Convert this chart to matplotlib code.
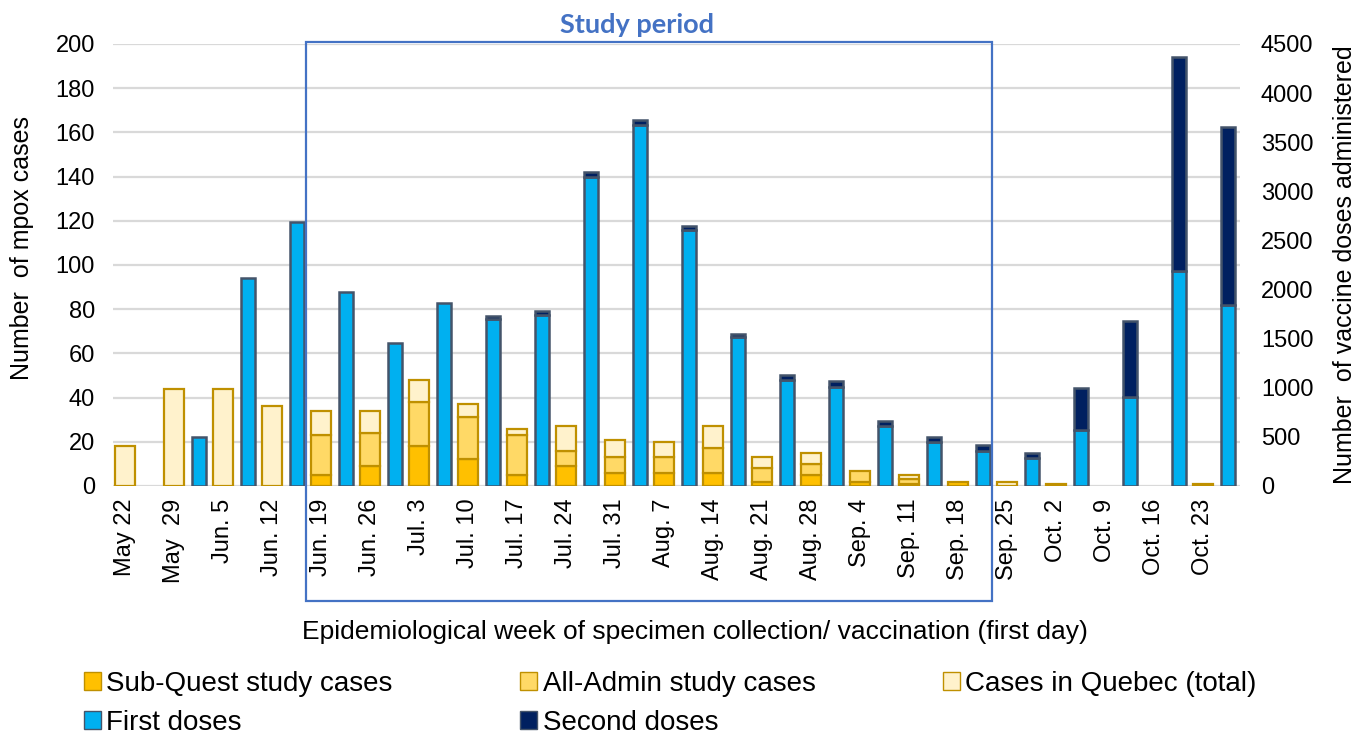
import numpy as np
import matplotlib.pyplot as plt
from matplotlib.patches import Patch, Rectangle

plt.rcParams['font.family'] = ['Liberation Sans', 'DejaVu Sans']

weeks = ['May 22', 'May  29', 'Jun. 5', 'Jun. 12', 'Jun. 19', 'Jun. 26', 'Jul. 3',
         'Jul. 10', 'Jul. 17', 'Jul. 24', 'Jul. 31', 'Aug. 7', 'Aug. 14', 'Aug. 21',
         'Aug. 28', 'Sep. 4', 'Sep. 11', 'Sep. 18', 'Sep. 25', 'Oct. 2', 'Oct. 9',
         'Oct. 16', 'Oct. 23']

# cases (nested counts: sub-quest <= all-admin <= quebec total)
cases_quebec = [18, 44, 44, 36, 34, 34, 48, 37, 26, 27, 21, 20, 27, 13, 15, 7, 5, 2, 2, 1, 0, 0, 1]
cases_admin = [0, 0, 0, 0, 23, 24, 38, 31, 23, 16, 13, 13, 17, 8, 10, 7, 3, 2, 0, 1, 0, 0, 1]
cases_subquest = [0, 0, 0, 0, 5, 9, 18, 12, 5, 9, 6, 6, 6, 2, 5, 2, 1, 2, 0, 0, 0, 0, 0]

# vaccine doses
first_doses = [0, 496, 2121, 2685, 1979, 1459, 1860, 1701, 1738, 3150, 3677, 2610, 1518,
               1080, 1012, 609, 446, 354, 283, 570, 910, 2192, 1843]
second_doses = [0, 0, 0, 0, 0, 0, 0, 30, 40, 50, 50, 40, 30, 50, 60, 50, 50, 60, 50,
                431, 770, 2179, 1815]

c_sub = '#FFC000'
c_admin = '#FFD966'
c_queb = '#FFF2CC'
c_case_edge = '#BF9000'
c_first = '#00B0F0'
c_second = '#002060'
c_vac_edge = '#44546A'
c_box = '#4472C4'

x = np.arange(len(weeks))
sub = np.array(cases_subquest)
adm = np.array(cases_admin)
qc = np.array(cases_quebec)
h_adm = np.clip(adm - sub, 0, None)
h_qc = qc - np.maximum(adm, sub)


def bars(a, xs, h, bottom, w, color, edge, lw):
    # skip empty segments so no stray edge lines are drawn at zero
    m = h > 0
    a.bar(xs[m], h[m], w, bottom=bottom[m], color=color, edgecolor=edge,
          linewidth=lw, zorder=3)


fig = plt.figure(figsize=(13.59, 7.38), dpi=100)
ax = fig.add_axes([0.0832, 0.3415, 0.8292, 0.599])
ax2 = ax.twinx()

cw = 0.4
zero = np.zeros(len(x))
bars(ax, x, sub, zero, cw, c_sub, c_case_edge, 1.6)
bars(ax, x, h_adm, sub, cw, c_admin, c_case_edge, 1.6)
bars(ax, x, h_qc, np.maximum(adm, sub), cw, c_queb, c_case_edge, 1.6)

vw = 0.28
f = np.array(first_doses)
s = np.array(second_doses)
bars(ax2, x + 0.51, f, zero, vw, c_first, c_vac_edge, 1.8)
bars(ax2, x + 0.51, s, f, vw, c_second, c_vac_edge, 1.8)

ax.set_xlim(-0.245, 22.755)
ax.set_ylim(0, 200)
ax.set_yticks(np.arange(0, 201, 20))
ax2.set_ylim(0, 4500)
ax2.set_yticks(np.arange(0, 4501, 500))

ax.set_xticks(x)
ax.set_xticklabels(weeks, rotation=90, fontsize=17)
ax.tick_params(axis='x', length=0, pad=9)
ax.tick_params(axis='y', length=0, pad=13, labelsize=17)
ax2.tick_params(axis='y', length=0, pad=15, labelsize=17)

ax.grid(axis='y', color='#D9D9D9', linewidth=1.6, zorder=0)
ax.set_axisbelow(True)
for a in (ax, ax2):
    for sp in a.spines.values():
        sp.set_visible(False)

fig.text(22 / 1359, 1 - 248 / 738, 'Number  of mpox cases', rotation=90,
         ha='center', va='center', fontsize=18)
fig.text(1345 / 1359, 1 - 265 / 738, 'Number  of vaccine doses administered', rotation=90,
         ha='center', va='center', fontsize=18)
fig.text(695 / 1359, 1 - 632 / 738,
         'Epidemiological week of specimen collection/ vaccination (first day)',
         ha='center', va='center', fontsize=19)

# study period box
fig.patches.append(Rectangle((306 / 1359, 1 - 601 / 738), (992 - 306) / 1359,
                             (601 - 42) / 738, transform=fig.transFigure,
                             fill=False, edgecolor=c_box, linewidth=1.6, zorder=5))
fig.text(637 / 1359, 1 - 25 / 738, 'Study period', ha='center', va='center',
         fontsize=19.5, fontweight='bold', color=c_box, family=['Lato', 'DejaVu Sans'])

handles = [
    Patch(facecolor=c_sub, edgecolor=c_case_edge, label='Sub-Quest study cases'),
    Patch(facecolor=c_first, edgecolor=c_vac_edge, label='First doses'),
    Patch(facecolor=c_admin, edgecolor=c_case_edge, label='All-Admin study cases'),
    Patch(facecolor=c_second, edgecolor=c_vac_edge, label='Second doses'),
    Patch(facecolor=c_queb, edgecolor=c_case_edge, label='Cases in Quebec (total)'),
]
fig.legend(handles=handles, ncol=3, loc='upper left', bbox_to_anchor=(84 / 1359, 1 - 671 / 738),
           frameon=False, fontsize=20, handlelength=0.6, handleheight=0.6,
           handletextpad=0.2, columnspacing=4.6, labelspacing=0.46,
           borderpad=0, borderaxespad=0)

fig.savefig('out.png', dpi=100)
